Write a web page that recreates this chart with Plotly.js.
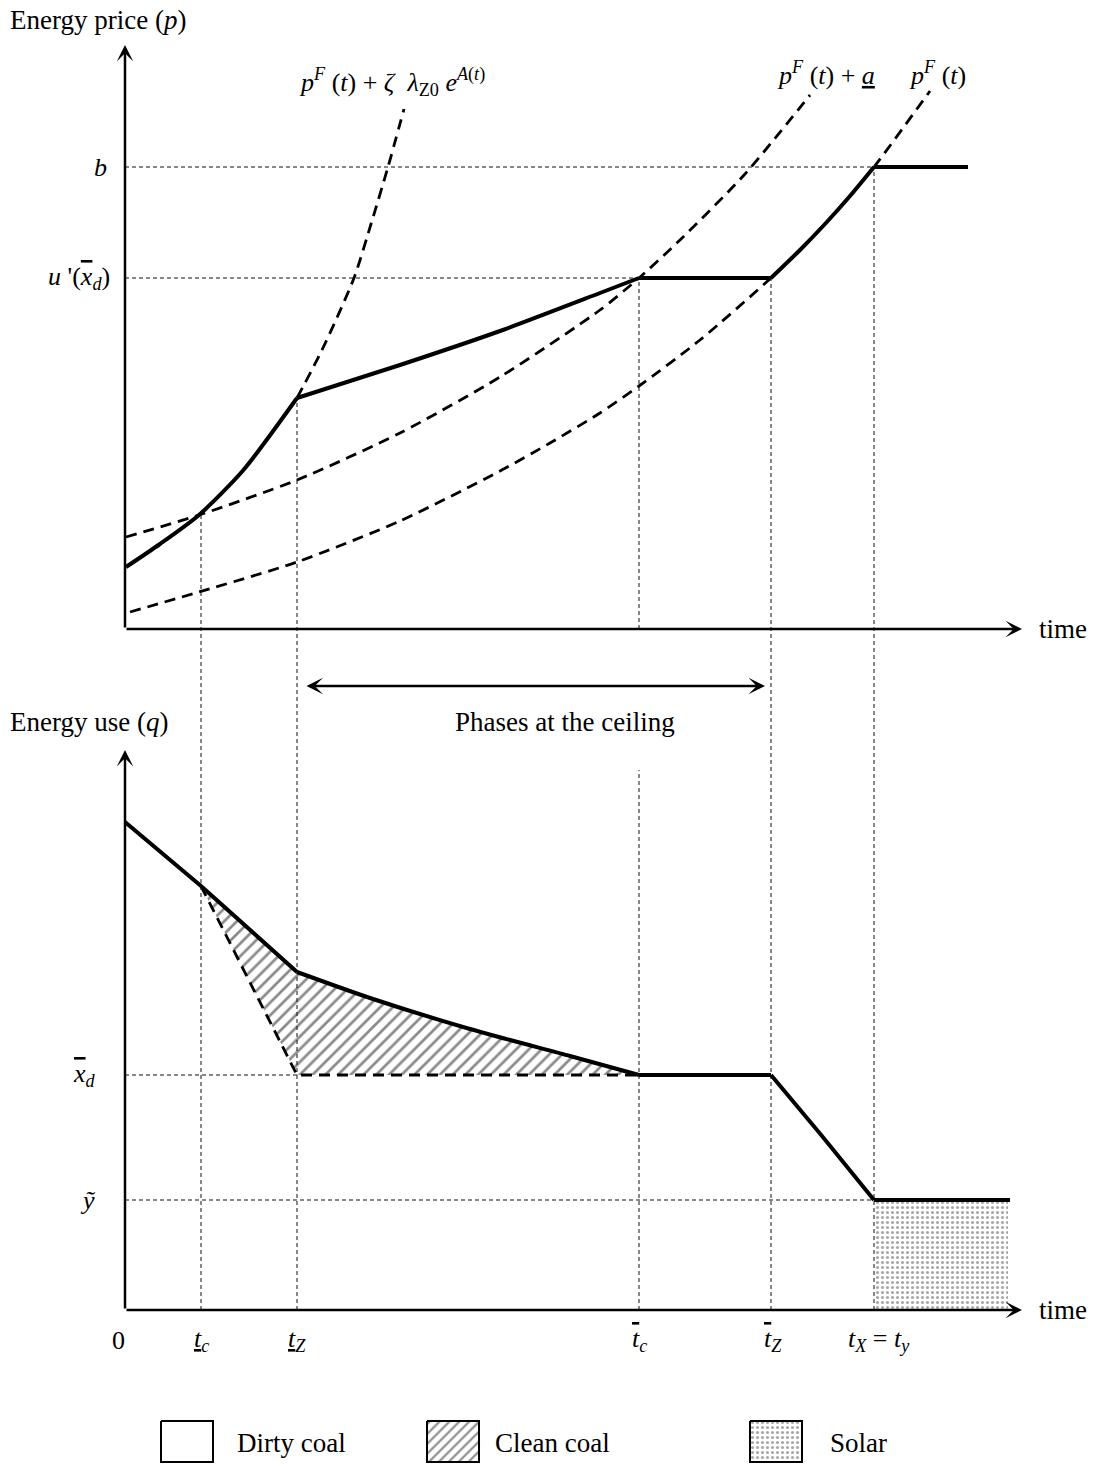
<!DOCTYPE html>
<html>
<head>
<meta charset="utf-8">
<script src="https://cdn.plot.ly/plotly-3.0.1.min.js"></script>
<style>html,body{margin:0;padding:0;background:#fff;}#chart{width:1094px;height:1466px;}</style>
</head>
<body>
<div id="chart"></div>
<script>
// ---- key times (time axis units) ----
const tC = 0.76, tZ = 1.72, tCbar = 5.14, tZbar = 6.46, tX = 7.49;
const tEndTop = 8.43, tEndBottom = 8.85, tSolarEnd = 8.83;
// ---- price levels ----
const bLevel = 4.62, uLevel = 3.51;
// ---- quantity levels ----
const xdLevel = 2.35, yLevel = 1.10;

// p^F(t)
const pF_t = [0.05, 0.74, 1.72, 2.75, 3.75, 4.25, 4.75, 5.14, 5.75, 6.46, 6.75, 7.0, 7.25, 7.49, 8.05];
const pF_p = [0.17, 0.37, 0.67, 1.08, 1.58, 1.86, 2.16, 2.43, 2.89, 3.51, 3.79, 4.05, 4.33, 4.62, 5.38];
// p^F(t) + a
const pFa_t = [0.01, 0.74, 1.72, 2.75, 3.75, 4.75, 5.14, 5.55, 6.2, 6.85];
const pFa_p = [0.92, 1.14, 1.49, 1.96, 2.52, 3.19, 3.51, 3.89, 4.55, 5.34];
// p^F(t) + zeta lambda e^A(t): solid part then dashed part
const lamS_t = [0.01, 0.35, 0.74, 1.18, 1.72];
const lamS_p = [0.62, 0.85, 1.14, 1.585, 2.31];
const lamD_t = [1.72, 1.97, 2.29, 2.46, 2.63, 2.79];
const lamD_p = [2.31, 2.79, 3.51, 4.05, 4.62, 5.20];
// price path during ceiling phase (t_Z .. t_c bar)
const ceil_t = [1.72, 2.75, 3.75, 4.75, 5.14];
const ceil_p = [2.31, 2.64, 2.98, 3.36, 3.51];
// price path along p^F between t_Z bar and t_X
const late_t = [6.46, 6.75, 7.0, 7.25, 7.49];
const late_p = [3.51, 3.79, 4.05, 4.33, 4.62];

// energy use (bottom panel)
const q1_t = [0, 0.76, 1.72];
const q1_q = [4.88, 4.24, 3.38];
const q2_t = [1.72, 2.45, 3.45, 4.45, 5.14];
const q2_q = [3.38, 3.12, 2.81, 2.54, 2.35];
const q4_t = [6.46, 6.97, 7.49];
const q4_q = [2.35, 1.74, 1.10];
const dirty_t = [0.76, 1.72, 5.14];
const dirty_q = [4.24, 2.35, 2.35];

// ---- pixel-aligned ranges ----
const X_RANGE = [-1.25, 9.69];
const P_RANGE = [-8.37, 6.29];
const Q_RANGE = [-1.56, 13.10];
const P2Q = Q_RANGE[1] - P_RANGE[1];
const pq = p => p + P2Q;

const FONT = 'Liberation Serif, Times New Roman, serif';
const traces = [];
function line(xs, ys, ax, width, dash, shape) {
  traces.push({x: xs, y: ys, yaxis: ax, type: 'scatter', mode: 'lines', hoverinfo: 'skip',
    line: {color: '#000', width: width, dash: dash || 'solid', shape: shape || 'linear', smoothing: 0.7}});
}
const guide = (xs, ys, ax) => traces.push({x: xs, y: ys, yaxis: ax, type: 'scatter', mode: 'lines', hoverinfo: 'skip',
  line: {color: '#111', width: 1, dash: '4px,3px'}});

// hatched clean coal area
const hx = q1_t.slice(1).concat(q2_t.slice(1), [dirty_t[1]], [dirty_t[0]]);
const hy = q1_q.slice(1).concat(q2_q.slice(1), [dirty_q[1]], [dirty_q[0]]);
traces.push({x: hx, y: hy, yaxis: 'y2', type: 'scatter', mode: 'lines', fill: 'toself', hoverinfo: 'skip',
  line: {width: 0, color: 'rgba(0,0,0,0)'}, fillcolor: '#fff',
  fillpattern: {shape: '/', fgcolor: '#8a8a8a', bgcolor: '#fff', size: 9, solidity: 0.3}});
// solar area
traces.push({x: [tX, tSolarEnd, tSolarEnd, tX, tX], y: [0, 0, yLevel, yLevel, 0], yaxis: 'y2', type: 'scatter', mode: 'lines',
  fill: 'toself', hoverinfo: 'skip', line: {width: 0, color: 'rgba(0,0,0,0)'}, fillcolor: '#fff',
  fillpattern: {shape: '.', fgcolor: '#a8a8a8', bgcolor: '#fff', size: 5, solidity: 0.3}});

// guide lines
guide([0, tX], [bLevel, bLevel], 'y');
guide([0, tCbar], [uLevel, uLevel], 'y');
guide([tCbar, tCbar], [0, uLevel], 'y');
guide([0, tZ], [xdLevel, xdLevel], 'y2');
guide([0, tX], [yLevel, yLevel], 'y2');
guide([tC, tC], [0, pq(lamS_p[2])], 'y2');
guide([tZ, tZ], [0, pq(lamS_p[4])], 'y2');
guide([tZbar, tZbar], [0, pq(uLevel)], 'y2');
guide([tX, tX], [0, pq(bLevel)], 'y2');
guide([tCbar, tCbar], [0, 5.40], 'y2');

// dashed curves
const DASH = '11px,7px';
line(pF_t, pF_p, 'y', 2.8, DASH, 'spline');
line(pFa_t, pFa_p, 'y', 2.8, DASH, 'spline');
line(lamD_t, lamD_p, 'y', 2.8, DASH, 'spline');
line(dirty_t, dirty_q, 'y2', 2.8, DASH);

// solid paths
const SW = 4;
line(lamS_t, lamS_p, 'y', SW, 'solid', 'spline');
line(ceil_t, ceil_p, 'y', SW, 'solid', 'spline');
line([tCbar, tZbar], [uLevel, uLevel], 'y', SW);
line(late_t, late_p, 'y', SW, 'solid', 'spline');
line([tX, tEndTop], [bLevel, bLevel], 'y', SW);
line(q1_t, q1_q, 'y2', SW);
line(q2_t, q2_q, 'y2', SW, 'solid', 'spline');
line([tCbar, tZbar], [xdLevel, xdLevel], 'y2', SW);
line(q4_t, q4_q, 'y2', SW);
line([tX, tEndBottom], [yLevel, yLevel], 'y2', SW);

// legend boxes
function box(x0, x1, pattern) {
  const t = {x: [x0, x1, x1, x0, x0], y: [-1.11, -1.11, -1.52, -1.52, -1.11], yaxis: 'y2', type: 'scatter', mode: 'lines',
    fill: 'toself', fillcolor: '#fff', hoverinfo: 'skip', line: {color: '#000', width: 2}};
  if (pattern) t.fillpattern = pattern;
  traces.push(t);
}
box(0.36, 0.88, null);
box(3.02, 3.54, {shape: '/', fgcolor: '#8a8a8a', bgcolor: '#fff', size: 7, solidity: 0.3});
box(6.25, 6.77, {shape: '.', fgcolor: '#a8a8a8', bgcolor: '#fff', size: 5, solidity: 0.3});

const ov = s => '<span style="text-decoration:overline">' + s + '</span>';
const ann = [];
function txt(x, y, yref, text, xanchor, size) {
  ann.push({x: x, y: y, xref: 'x', yref: yref, text: text, showarrow: false, xanchor: xanchor || 'center',
    yanchor: 'middle', font: {family: FONT, size: size || 27, color: '#000'}});
}
function arrow(x0, y0, x1, y1, yref, side) {
  ann.push({x: x1, y: y1, ax: x0, ay: y0, xref: 'x', yref: yref, axref: 'x', ayref: yref, text: '',
    showarrow: true, arrowhead: 3, arrowsize: 1.1, arrowwidth: 2.5, arrowcolor: '#000', arrowside: side || 'end',
    startarrowhead: 3, startarrowsize: 1.1, standoff: 0, startstandoff: 0});
}
// axes
arrow(0, 0, 0, 5.84, 'y');
arrow(0, 0, 8.97, 0, 'y');
arrow(0, 0, 0, 5.60, 'y2');
arrow(0, 0, 8.97, 0, 'y2');
arrow(1.80, -0.57, 6.40, -0.57, 'y', 'end+start');

const M = 26;
txt(-1.17, 6.09, 'y', 'Energy price (<i>p</i>)', 'left');
txt(-1.17, 5.88, 'y2', 'Energy use (<i>q</i>)', 'left');
txt(9.12, 0, 'y', 'time', 'left');
txt(9.12, 0, 'y2', 'time', 'left');
txt(4.40, -0.93, 'y', 'Phases at the ceiling', 'center');
txt(-0.25, bLevel, 'y', '<i>b</i>', 'center', M);
txt(-0.13, uLevel, 'y', '<i>u</i> \'(' + ov('<i>x</i>') + '<sub><i>d</i></sub>)', 'right', M);
txt(-0.27, xdLevel, 'y2', ov('<i>x</i>') + '<sub><i>d</i></sub>', 'right', M);
txt(-0.37, yLevel, 'y2', '<i>ỹ</i>', 'center', M);
txt(2.67, 5.47, 'y', '<i>p</i><sup><i>F</i></sup> (<i>t</i>) + <i>ζ</i>  <i>λ</i><sub>Z0</sub> <i>e</i><sup><i>A</i>(<i>t</i>)</sup>', 'center', M);
txt(7.01, 5.56, 'y', '<i>p</i><sup><i>F</i></sup> (<i>t</i>) + <u><i>a</i></u>', 'center', M);
txt(8.12, 5.56, 'y', '<i>p</i><sup><i>F</i></sup> (<i>t</i>)', 'center', M);
// tick labels
const tickY = -0.30;
txt(-0.07, tickY, 'y2', '0', 'center', M);
txt(tC, tickY, 'y2', '<u><i>t</i></u><sub><i>c</i></sub>', 'center', M);
txt(tZ, tickY, 'y2', '<u><i>t</i></u><sub><i>Z</i></sub>', 'center', M);
txt(tCbar, tickY, 'y2', ov('<i>t</i>') + '<sub><i>c</i></sub>', 'center', M);
txt(tZbar + 0.02, tickY, 'y2', ov('<i>t</i>') + '<sub><i>Z</i></sub>', 'center', M);
txt(tX + 0.05, tickY, 'y2', '<i>t</i><sub><i>X</i></sub> = <i>t</i><sub><i>y</i></sub>', 'center', M);
// legend labels
txt(1.10, -1.33, 'y2', 'Dirty coal', 'left');
txt(3.68, -1.33, 'y2', 'Clean coal', 'left');
txt(7.03, -1.33, 'y2', 'Solar', 'left');

const hidden = {showgrid: false, zeroline: false, showline: false, showticklabels: false, ticks: ''};
const layout = {
  width: 1094, height: 1466, autosize: false,
  margin: {l: 0, r: 0, t: 0, b: 0, pad: 0},
  paper_bgcolor: '#fff', plot_bgcolor: '#fff', showlegend: false,
  font: {family: FONT, size: 27, color: '#000'},
  xaxis: Object.assign({range: X_RANGE, domain: [0, 1]}, hidden),
  yaxis: Object.assign({range: P_RANGE, domain: [0, 1]}, hidden),
  yaxis2: Object.assign({range: Q_RANGE, domain: [0, 1], overlaying: 'y'}, hidden),
  annotations: ann
};
Plotly.newPlot('chart', traces, layout, {staticPlot: true, displayModeBar: false});
</script>
</body>
</html>
